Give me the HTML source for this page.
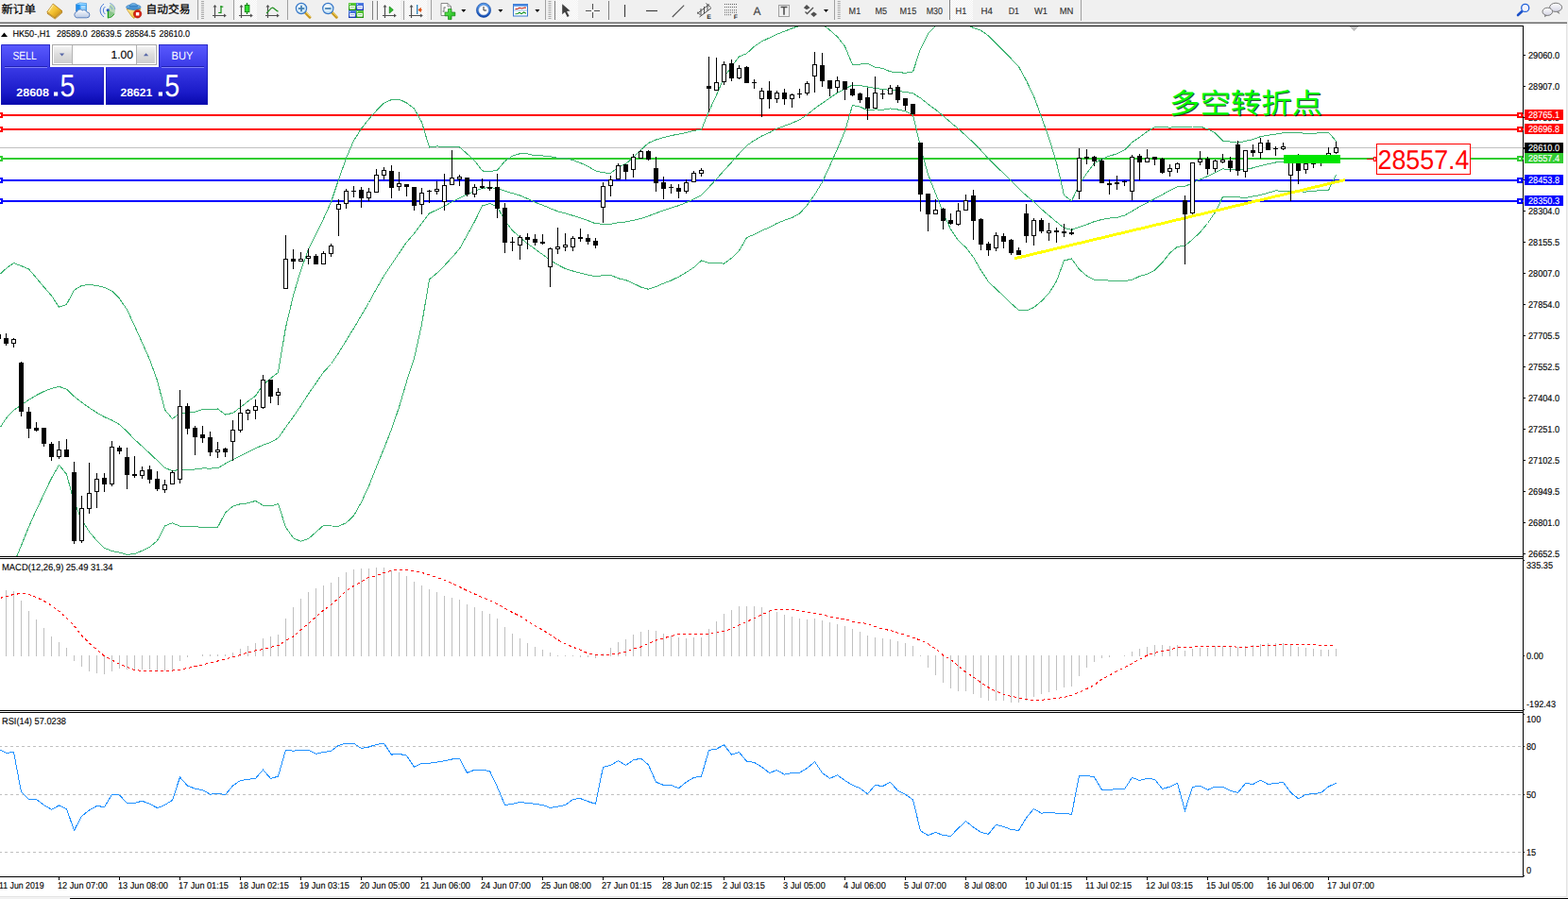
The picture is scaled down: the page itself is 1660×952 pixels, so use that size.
<!DOCTYPE html>
<html><head><meta charset="utf-8"><title>HK50-,H1</title><style>html,body{margin:0;padding:0;background:#fff;overflow:hidden}</style></head><body>
<svg width="1660" height="952" viewBox="0 0 1660 952" style="display:block;font-family:'Liberation Sans',sans-serif" text-rendering="geometricPrecision">
<defs>
<clipPath id="cm"><rect x="0" y="28" width="1612" height="561"/></clipPath>
<clipPath id="cd"><rect x="0" y="592" width="1612" height="160"/></clipPath>
<clipPath id="cr"><rect x="0" y="755" width="1612" height="173"/></clipPath>
<linearGradient id="gb1" x1="0" y1="0" x2="0" y2="1"><stop offset="0" stop-color="#5a5af4"/><stop offset="1" stop-color="#2e2ee4"/></linearGradient>
<linearGradient id="gb2" x1="0" y1="0" x2="0" y2="1"><stop offset="0" stop-color="#2c2ce2"/><stop offset="0.5" stop-color="#1010d0"/><stop offset="1" stop-color="#0000b4"/></linearGradient>
<linearGradient id="gp" x1="0" y1="47" x2="0" y2="111" gradientUnits="userSpaceOnUse"><stop offset="0" stop-color="#5a5aff"/><stop offset="0.35" stop-color="#3c3ce8"/><stop offset="0.8" stop-color="#1a1ac8"/><stop offset="1" stop-color="#0808ac"/></linearGradient>
<linearGradient id="gbtn" x1="0" y1="0" x2="0" y2="1"><stop offset="0" stop-color="#f4f4f4"/><stop offset="0.5" stop-color="#dcdcdc"/><stop offset="1" stop-color="#cfcfcf"/></linearGradient>
<pattern id="hatch" width="2" height="2" patternUnits="userSpaceOnUse"><rect width="2" height="2" fill="#ffffff"/><rect width="1" height="1" fill="#f0f0f0"/><rect x="1" y="1" width="1" height="1" fill="#f0f0f0"/></pattern><linearGradient id="gold" x1="0" y1="0" x2="1" y2="1"><stop offset="0" stop-color="#ffe680"/><stop offset="0.5" stop-color="#f2c030"/><stop offset="1" stop-color="#b87808"/></linearGradient><linearGradient id="cloud" x1="0" y1="0" x2="0" y2="1"><stop offset="0" stop-color="#ffffff"/><stop offset="1" stop-color="#b8c8e4"/></linearGradient><linearGradient id="hat" x1="0" y1="0" x2="0" y2="1"><stop offset="0" stop-color="#8cc8f0"/><stop offset="1" stop-color="#3080c8"/></linearGradient><linearGradient id="fun" x1="0" y1="0" x2="1" y2="1"><stop offset="0" stop-color="#fff0a0"/><stop offset="1" stop-color="#e8b020"/></linearGradient><radialGradient id="lens" cx="0.4" cy="0.35" r="0.7"><stop offset="0" stop-color="#ffffff"/><stop offset="1" stop-color="#b8dcf4"/></radialGradient><linearGradient id="clk" x1="0" y1="0" x2="0" y2="1"><stop offset="0" stop-color="#58a0f0"/><stop offset="1" stop-color="#1048b0"/></linearGradient><linearGradient id="bub" x1="0" y1="0" x2="0" y2="1"><stop offset="0" stop-color="#ffffff"/><stop offset="1" stop-color="#d4d4e4"/></linearGradient><linearGradient id="grn" x1="0" y1="0" x2="0" y2="1"><stop offset="0" stop-color="#60d040"/><stop offset="1" stop-color="#209010"/></linearGradient><linearGradient id="grn2" x1="0" y1="0" x2="1" y2="1"><stop offset="0" stop-color="#70f060"/><stop offset="1" stop-color="#10b010"/></linearGradient><linearGradient id="blu" x1="0" y1="0" x2="0" y2="1"><stop offset="0" stop-color="#5080e8"/><stop offset="1" stop-color="#1838b0"/></linearGradient>
</defs>
<rect x="0" y="0" width="1660" height="952" fill="#fff"/>
<g clip-path="url(#cm)" shape-rendering="crispEdges">
<rect x="0" y="156" width="1612" height="1" fill="#c0c0c0"/>
<rect x="0" y="121" width="1612" height="2" fill="#ff0000"/>
<rect x="0" y="136" width="1612" height="2" fill="#ff0000"/>
<rect x="0" y="167" width="1612" height="2" fill="#32cd32"/>
<rect x="0" y="190" width="1612" height="2" fill="#0000ff"/>
<rect x="0" y="212" width="1612" height="2" fill="#0000ff"/>
</g>
<g clip-path="url(#cm)" shape-rendering="crispEdges">
<polyline points="0.5,289.8 6.5,284.3 14.5,278.5 22.5,281.6 30.5,285.0 38.5,294.3 46.5,303.9 54.5,313.0 62.5,325.3 70.5,322.3 78.5,307.1 86.5,302.5 94.5,301.4 102.5,302.4 110.5,304.4 118.5,308.2 126.5,316.2 134.5,328.0 142.5,345.1 150.5,362.8 158.5,380.8 166.5,402.8 174.5,433.9 182.5,443.5 190.5,437.7 198.5,437.3 206.5,436.1 214.5,433.6 222.5,433.9 230.5,433.0 238.5,439.0 246.5,437.4 254.5,431.4 262.5,425.0 270.5,419.3 278.5,407.4 286.5,400.7 294.5,394.4 302.5,346.6 310.5,313.0 318.5,286.1 326.5,264.0 334.5,247.8 342.5,231.7 350.5,214.0 358.5,190.2 366.5,167.6 374.5,148.9 382.5,136.3 390.5,126.1 398.5,117.2 406.5,109.1 414.5,105.6 422.5,105.1 430.5,109.0 438.5,115.1 446.5,129.5 454.5,156.0 462.5,155.0 470.5,155.1 478.5,155.1 486.5,155.9 494.5,162.9 502.5,170.2 510.5,180.9 518.5,181.7 526.5,180.2 534.5,170.7 542.5,165.2 550.5,162.7 558.5,162.9 566.5,164.8 574.5,164.9 582.5,165.8 590.5,167.2 598.5,167.3 606.5,169.6 614.5,172.5 622.5,176.2 630.5,180.9 638.5,182.8 646.5,183.5 654.5,176.9 662.5,173.5 670.5,166.7 678.5,158.7 686.5,151.4 694.5,148.0 702.5,145.7 710.5,143.5 718.5,142.2 726.5,140.5 734.5,138.4 742.5,137.3 750.5,117.9 758.5,100.7 766.5,81.8 774.5,70.5 782.5,60.0 790.5,56.7 798.5,49.2 806.5,43.9 814.5,40.1 822.5,36.2 830.5,33.2 838.5,30.0 846.5,27.3 854.5,25.8 862.5,23.6 870.5,25.7 878.5,31.9 886.5,39.0 894.5,49.2 902.5,68.5 910.5,68.1 918.5,67.2 926.5,71.1 934.5,72.4 942.5,75.9 950.5,76.7 958.5,77.2 966.5,76.0 974.5,51.9 982.5,35.7 990.5,27.1 998.5,20.4 1006.5,16.6 1014.5,18.1 1022.5,25.2 1030.5,29.6 1038.5,32.2 1046.5,38.0 1054.5,45.8 1062.5,53.9 1070.5,62.2 1078.5,70.7 1086.5,85.3 1094.5,102.0 1102.5,123.8 1110.5,146.1 1118.5,172.3 1126.5,206.7 1134.5,212.8 1142.5,195.7 1150.5,183.4 1158.5,172.9 1166.5,168.4 1174.5,165.1 1182.5,162.9 1190.5,158.9 1198.5,150.8 1206.5,145.3 1214.5,139.2 1222.5,134.8 1230.5,134.4 1238.5,135.2 1246.5,134.2 1254.5,134.6 1262.5,134.0 1270.5,134.0 1278.5,136.7 1286.5,140.9 1294.5,149.1 1302.5,150.1 1310.5,151.2 1318.5,149.4 1326.5,147.7 1334.5,144.6 1342.5,143.3 1350.5,142.1 1358.5,140.7 1366.5,140.4 1374.5,140.9 1382.5,141.1 1390.5,141.1 1398.5,140.9 1406.5,140.1 1414.5,149.6" fill="none" stroke="#3cb371" stroke-width="1"/>
<polyline points="0.5,452.2 6.5,442.9 14.5,434.3 22.5,429.0 30.5,423.4 38.5,418.5 46.5,414.5 54.5,411.4 62.5,409.3 70.5,412.2 78.5,419.8 86.5,426.1 94.5,431.8 102.5,437.0 110.5,441.6 118.5,445.0 126.5,449.6 134.5,457.0 142.5,465.4 150.5,472.7 158.5,480.0 166.5,487.7 174.5,495.4 182.5,498.6 190.5,497.4 198.5,497.3 206.5,497.0 214.5,495.9 222.5,496.1 230.5,495.7 238.5,491.0 246.5,486.8 254.5,482.6 262.5,478.9 270.5,474.8 278.5,471.3 286.5,468.4 294.5,463.9 302.5,452.4 310.5,441.4 318.5,429.7 326.5,417.3 334.5,405.7 342.5,394.1 350.5,385.5 358.5,373.7 366.5,360.6 374.5,347.6 382.5,334.1 390.5,320.5 398.5,305.8 406.5,292.0 414.5,280.1 422.5,268.1 430.5,256.5 438.5,247.3 446.5,236.5 454.5,225.9 462.5,222.2 470.5,218.2 478.5,213.8 486.5,209.6 494.5,206.0 502.5,202.5 510.5,199.4 518.5,198.6 526.5,199.5 534.5,202.3 542.5,204.6 550.5,207.0 558.5,210.4 566.5,214.3 574.5,217.2 582.5,220.7 590.5,223.8 598.5,225.9 606.5,228.3 614.5,230.8 622.5,233.6 630.5,236.8 638.5,237.2 646.5,237.4 654.5,235.8 662.5,235.0 670.5,233.4 678.5,231.4 686.5,228.8 694.5,225.7 702.5,222.9 710.5,220.2 718.5,217.7 726.5,214.5 734.5,210.8 742.5,206.6 750.5,198.3 758.5,189.6 766.5,180.5 774.5,171.9 782.5,162.8 790.5,154.2 798.5,148.7 806.5,144.0 814.5,140.5 822.5,136.3 830.5,133.3 838.5,130.3 846.5,126.8 854.5,121.5 862.5,114.9 870.5,109.3 878.5,103.8 886.5,98.4 894.5,94.0 902.5,90.0 910.5,90.6 918.5,92.0 926.5,93.5 934.5,94.4 942.5,95.4 950.5,96.3 958.5,97.5 966.5,98.8 974.5,103.8 982.5,110.2 990.5,116.1 998.5,122.8 1006.5,129.6 1014.5,136.4 1022.5,143.6 1030.5,151.0 1038.5,159.2 1046.5,168.2 1054.5,175.9 1062.5,183.7 1070.5,191.8 1078.5,199.5 1086.5,207.1 1094.5,213.8 1102.5,221.4 1110.5,228.3 1118.5,235.0 1126.5,241.3 1134.5,243.4 1142.5,240.5 1150.5,237.8 1158.5,234.6 1166.5,232.5 1174.5,231.1 1182.5,230.3 1190.5,228.2 1198.5,223.6 1206.5,218.9 1214.5,214.8 1222.5,210.4 1230.5,206.2 1238.5,201.6 1246.5,197.7 1254.5,197.4 1262.5,193.8 1270.5,190.0 1278.5,186.6 1286.5,182.8 1294.5,178.9 1302.5,179.4 1310.5,180.0 1318.5,179.4 1326.5,177.8 1334.5,175.5 1342.5,173.7 1350.5,172.0 1358.5,171.4 1366.5,171.2 1374.5,171.9 1382.5,172.1 1390.5,171.7 1398.5,171.4 1406.5,170.8 1414.5,167.3" fill="none" stroke="#3cb371" stroke-width="1"/>
<polyline points="0.5,632.0 6.5,615.0 14.5,597.0 22.5,577.8 30.5,557.8 38.5,540.0 46.5,523.2 54.5,506.4 62.5,492.3 70.5,502.2 78.5,531.6 86.5,550.5 94.5,563.1 102.5,572.6 110.5,580.3 118.5,583.5 126.5,585.2 134.5,587.3 142.5,586.6 150.5,583.1 158.5,579.2 166.5,572.6 174.5,556.9 182.5,553.8 190.5,557.2 198.5,557.4 206.5,557.8 214.5,558.3 222.5,558.2 230.5,558.3 238.5,542.9 246.5,536.1 254.5,533.7 262.5,532.9 270.5,530.4 278.5,535.2 286.5,536.0 294.5,533.5 302.5,558.3 310.5,569.7 318.5,573.3 326.5,570.6 334.5,563.5 342.5,556.4 350.5,557.0 358.5,557.1 366.5,553.7 374.5,546.2 382.5,531.9 390.5,514.8 398.5,494.4 406.5,475.0 414.5,454.6 422.5,431.2 430.5,404.0 438.5,379.5 446.5,343.5 454.5,295.8 462.5,289.3 470.5,281.3 478.5,272.6 486.5,263.4 494.5,249.0 502.5,234.7 510.5,218.0 518.5,215.5 526.5,218.9 534.5,233.8 542.5,244.0 550.5,251.4 558.5,258.0 566.5,263.7 574.5,269.6 582.5,275.5 590.5,280.4 598.5,284.5 606.5,287.0 614.5,289.2 622.5,291.1 630.5,292.7 638.5,291.7 646.5,291.3 654.5,294.8 662.5,296.5 670.5,300.1 678.5,304.0 686.5,306.3 694.5,303.5 702.5,300.1 710.5,297.0 718.5,293.1 726.5,288.5 734.5,283.2 742.5,276.0 750.5,278.6 758.5,278.5 766.5,279.1 774.5,273.4 782.5,265.5 790.5,251.7 798.5,248.2 806.5,244.2 814.5,240.9 822.5,236.5 830.5,233.3 838.5,230.5 846.5,226.2 854.5,217.2 862.5,206.2 870.5,192.9 878.5,175.7 886.5,157.8 894.5,138.8 902.5,111.5 910.5,113.1 918.5,116.8 926.5,115.9 934.5,116.3 942.5,114.9 950.5,116.0 958.5,117.9 966.5,121.5 974.5,155.7 982.5,184.7 990.5,205.1 998.5,225.1 1006.5,242.7 1014.5,254.7 1022.5,262.0 1030.5,272.4 1038.5,286.3 1046.5,298.4 1054.5,306.1 1062.5,313.5 1070.5,321.4 1078.5,328.3 1086.5,328.9 1094.5,325.6 1102.5,319.0 1110.5,310.6 1118.5,297.8 1126.5,276.0 1134.5,274.0 1142.5,285.2 1150.5,292.1 1158.5,296.3 1166.5,296.6 1174.5,297.1 1182.5,297.6 1190.5,297.5 1198.5,296.4 1206.5,292.5 1214.5,290.4 1222.5,286.1 1230.5,278.0 1238.5,268.0 1246.5,261.3 1254.5,260.2 1262.5,253.6 1270.5,246.0 1278.5,236.5 1286.5,224.7 1294.5,208.6 1302.5,208.7 1310.5,208.8 1318.5,209.4 1326.5,207.9 1334.5,206.5 1342.5,204.2 1350.5,201.9 1358.5,202.2 1366.5,202.0 1374.5,202.9 1382.5,203.1 1390.5,202.2 1398.5,201.8 1406.5,201.5 1414.5,184.9" fill="none" stroke="#3cb371" stroke-width="1"/>
<line x1="1074" y1="273.8" x2="1424" y2="190.5" stroke="#ffff00" stroke-width="2.95"/>
<path d="M0 354h1v5h-1zM6 353h1v13h-1zM4 358h5v6h-5zM14 358h1v10h-1zM12 359h5v5h-5zM22 383h1v58h-1zM20 384h5v52h-5zM30 431h1v33h-1zM28 436h5v18h-5zM38 447h1v10h-1zM36 453h5v3h-5zM46 453h1v20h-1zM44 453h5v17h-5zM54 468h1v20h-1zM52 470h5v14h-5zM62 467h1v19h-1zM60 476h5v8h-5zM70 465h1v19h-1zM68 476h5v8h-5zM78 489h1v87h-1zM76 500h5v73h-5zM86 525h1v50h-1zM84 538h5v35h-5zM94 490h1v54h-1zM92 522h5v17h-5zM102 501h1v37h-1zM100 507h5v14h-5zM110 501h1v20h-1zM108 506h5v7h-5zM118 467h1v48h-1zM116 473h5v40h-5zM126 472h1v9h-1zM124 474h5v4h-5zM134 474h1v44h-1zM132 484h5v19h-5zM142 483h1v23h-1zM140 502h5v2h-5zM150 494h1v13h-1zM148 498h5v6h-5zM158 493h1v19h-1zM156 497h5v11h-5zM166 499h1v21h-1zM164 507h5v11h-5zM174 508h1v14h-1zM172 513h5v6h-5zM182 498h1v15h-1zM180 500h5v13h-5zM190 413h1v99h-1zM188 430h5v78h-5zM198 427h1v33h-1zM196 430h5v24h-5zM206 451h1v31h-1zM204 453h5v10h-5zM214 451h1v18h-1zM212 460h5v4h-5zM222 457h1v26h-1zM220 463h5v16h-5zM230 468h1v17h-1zM228 476h5v3h-5zM238 474h1v10h-1zM236 475h5v4h-5zM246 445h1v43h-1zM244 455h5v13h-5zM254 423h1v35h-1zM252 437h5v19h-5zM262 433h1v12h-1zM260 434h5v4h-5zM270 423h1v21h-1zM268 430h5v5h-5zM278 397h1v36h-1zM276 402h5v30h-5zM286 402h1v25h-1zM284 402h5v18h-5zM294 411h1v18h-1zM292 415h5v4h-5zM302 249h1v57h-1zM300 274h5v32h-5zM310 264h1v21h-1zM308 274h5v3h-5zM318 267h1v10h-1zM316 274h5v3h-5zM326 263h1v17h-1zM324 271h5v3h-5zM334 269h1v11h-1zM332 271h5v9h-5zM342 266h1v14h-1zM340 268h5v12h-5zM350 258h1v14h-1zM348 260h5v9h-5zM358 211h1v39h-1zM356 216h5v6h-5zM366 200h1v21h-1zM364 202h5v14h-5zM374 197h1v12h-1zM372 202h5v1h-5zM382 198h1v22h-1zM380 201h5v9h-5zM390 199h1v14h-1zM388 203h5v7h-5zM398 179h1v25h-1zM396 185h5v19h-5zM406 177h1v13h-1zM404 180h5v6h-5zM414 175h1v35h-1zM412 181h5v18h-5zM422 182h1v20h-1zM420 194h5v4h-5zM430 195h1v13h-1zM428 195h5v3h-5zM438 198h1v25h-1zM436 198h5v20h-5zM446 199h1v28h-1zM444 204h5v13h-5zM454 201h1v14h-1zM452 202h5v1h-5zM462 192h1v14h-1zM460 200h5v3h-5zM470 184h1v39h-1zM468 196h5v18h-5zM478 159h1v37h-1zM476 188h5v8h-5zM486 185h1v12h-1zM484 187h5v3h-5zM494 188h1v20h-1zM492 188h5v18h-5zM502 195h1v14h-1zM500 198h5v8h-5zM510 189h1v11h-1zM508 197h5v2h-5zM518 192h1v10h-1zM516 198h5v2h-5zM526 184h1v47h-1zM524 198h5v23h-5zM534 215h1v53h-1zM532 220h5v37h-5zM542 251h1v15h-1zM540 256h5v1h-5zM550 249h1v26h-1zM548 251h5v9h-5zM558 247h1v17h-1zM556 251h5v3h-5zM566 248h1v12h-1zM564 253h5v4h-5zM574 248h1v11h-1zM572 256h5v2h-5zM582 262h1v42h-1zM580 263h5v20h-5zM590 241h1v28h-1zM588 261h5v3h-5zM598 247h1v19h-1zM596 259h5v3h-5zM606 250h1v16h-1zM604 252h5v10h-5zM614 242h1v14h-1zM612 251h5v2h-5zM622 248h1v11h-1zM620 252h5v4h-5zM630 252h1v11h-1zM628 255h5v5h-5zM638 193h1v43h-1zM636 197h5v23h-5zM646 186h1v22h-1zM644 190h5v7h-5zM654 173h1v17h-1zM652 175h5v15h-5zM662 174h1v16h-1zM660 174h5v8h-5zM670 163h1v25h-1zM668 166h5v14h-5zM678 159h1v9h-1zM676 160h5v8h-5zM686 159h1v11h-1zM684 160h5v9h-5zM694 166h1v37h-1zM692 178h5v16h-5zM702 187h1v24h-1zM700 193h5v7h-5zM710 195h1v10h-1zM708 198h5v1h-5zM718 195h1v15h-1zM716 199h5v4h-5zM726 190h1v15h-1zM724 193h5v10h-5zM734 181h1v12h-1zM732 183h5v10h-5zM742 178h1v9h-1zM740 180h5v4h-5zM750 60h1v59h-1zM748 91h5v3h-5zM758 61h1v35h-1zM756 87h5v9h-5zM766 65h1v25h-1zM764 68h5v19h-5zM774 63h1v23h-1zM772 67h5v16h-5zM782 69h1v15h-1zM780 72h5v11h-5zM790 70h1v18h-1zM788 71h5v17h-5zM798 84h1v10h-1zM796 87h5v1h-5zM806 93h1v31h-1zM804 96h5v9h-5zM814 86h1v29h-1zM812 96h5v9h-5zM822 96h1v13h-1zM820 98h5v7h-5zM830 94h1v17h-1zM828 98h5v7h-5zM838 99h1v15h-1zM836 100h5v5h-5zM846 94h1v10h-1zM844 99h5v1h-5zM854 86h1v15h-1zM852 88h5v11h-5zM862 55h1v43h-1zM860 68h5v13h-5zM870 56h1v36h-1zM868 69h5v17h-5zM878 85h1v17h-1zM876 85h5v9h-5zM886 81h1v17h-1zM884 85h5v8h-5zM894 86h1v20h-1zM892 86h5v9h-5zM902 87h1v15h-1zM900 94h5v7h-5zM910 98h1v11h-1zM908 99h5v7h-5zM918 93h1v34h-1zM916 103h5v12h-5zM926 81h1v34h-1zM924 98h5v17h-5zM934 95h1v10h-1zM932 99h5v1h-5zM942 90h1v10h-1zM940 93h5v7h-5zM950 90h1v19h-1zM948 92h5v14h-5zM958 104h1v13h-1zM956 104h5v8h-5zM966 110h1v11h-1zM964 110h5v11h-5zM974 151h1v73h-1zM972 151h5v55h-5zM982 205h1v40h-1zM980 205h5v22h-5zM990 211h1v16h-1zM988 222h5v5h-5zM998 220h1v23h-1zM996 221h5v13h-5zM1006 226h1v12h-1zM1004 233h5v4h-5zM1014 215h1v24h-1zM1012 223h5v15h-5zM1022 206h1v17h-1zM1020 212h5v11h-5zM1030 201h1v53h-1zM1028 207h5v27h-5zM1038 231h1v34h-1zM1036 232h5v27h-5zM1046 256h1v15h-1zM1044 258h5v7h-5zM1054 246h1v20h-1zM1052 249h5v14h-5zM1062 247h1v16h-1zM1060 250h5v6h-5zM1070 253h1v17h-1zM1068 254h5v14h-5zM1078 262h1v8h-1zM1076 265h5v5h-5zM1086 216h1v41h-1zM1084 226h5v24h-5zM1094 231h1v29h-1zM1092 233h5v17h-5zM1102 231h1v16h-1zM1100 233h5v12h-5zM1110 236h1v19h-1zM1108 244h5v3h-5zM1118 241h1v16h-1zM1116 244h5v2h-5zM1126 237h1v14h-1zM1124 245h5v2h-5zM1134 242h1v7h-1zM1132 246h5v2h-5zM1142 157h1v54h-1zM1140 167h5v36h-5zM1150 158h1v16h-1zM1148 166h5v2h-5zM1158 165h1v11h-1zM1156 166h5v5h-5zM1166 168h1v26h-1zM1164 170h5v24h-5zM1174 190h1v16h-1zM1172 194h5v2h-5zM1182 186h1v15h-1zM1180 193h5v2h-5zM1190 191h1v6h-1zM1188 192h5v1h-5zM1198 164h1v48h-1zM1196 166h5v37h-5zM1206 163h1v28h-1zM1204 165h5v7h-5zM1214 158h1v14h-1zM1212 167h5v5h-5zM1222 166h1v9h-1zM1220 166h5v3h-5zM1230 167h1v17h-1zM1228 168h5v15h-5zM1238 174h1v13h-1zM1236 178h5v4h-5zM1246 172h1v11h-1zM1244 173h5v6h-5zM1254 207h1v73h-1zM1252 212h5v15h-5zM1262 172h1v55h-1zM1260 172h5v54h-5zM1270 160h1v15h-1zM1268 168h5v4h-5zM1278 166h1v19h-1zM1276 168h5v11h-5zM1286 169h1v13h-1zM1284 170h5v9h-5zM1294 163h1v10h-1zM1292 169h5v3h-5zM1302 166h1v16h-1zM1300 170h5v8h-5zM1310 149h1v37h-1zM1308 153h5v28h-5zM1318 159h1v29h-1zM1316 159h5v23h-5zM1326 153h1v13h-1zM1324 159h5v3h-5zM1334 146h1v22h-1zM1332 151h5v11h-5zM1342 148h1v11h-1zM1340 151h5v8h-5zM1350 155h1v10h-1zM1348 157h5v1h-5zM1358 151h1v8h-1zM1356 155h5v3h-5zM1366 166h1v47h-1zM1364 167h5v19h-5zM1374 163h1v32h-1zM1372 168h5v13h-5zM1382 172h1v12h-1zM1380 173h5v7h-5zM1390 172h1v6h-1zM1388 173h5v1h-5zM1398 170h1v6h-1zM1396 171h5v2h-5zM1406 156h1v11h-1zM1404 162h5v4h-5zM1414 150h1v13h-1zM1412 156h5v6h-5z" fill="#000"/>
<path d="M13 360h3v3h-3zM61 477h3v6h-3zM85 539h3v33h-3zM93 523h3v15h-3zM101 508h3v12h-3zM117 474h3v38h-3zM149 499h3v4h-3zM173 514h3v4h-3zM181 501h3v11h-3zM189 431h3v76h-3zM229 477h3v1h-3zM245 456h3v11h-3zM253 438h3v17h-3zM261 435h3v2h-3zM269 431h3v3h-3zM277 403h3v28h-3zM293 416h3v2h-3zM301 275h3v30h-3zM317 275h3v1h-3zM325 272h3v1h-3zM341 269h3v10h-3zM349 261h3v7h-3zM357 217h3v4h-3zM365 203h3v12h-3zM389 204h3v5h-3zM397 186h3v17h-3zM405 181h3v4h-3zM421 195h3v2h-3zM445 205h3v11h-3zM461 201h3v1h-3zM469 197h3v16h-3zM477 189h3v6h-3zM485 188h3v1h-3zM501 199h3v6h-3zM549 252h3v7h-3zM581 264h3v18h-3zM589 262h3v1h-3zM597 260h3v1h-3zM605 253h3v8h-3zM637 198h3v21h-3zM645 191h3v5h-3zM653 176h3v13h-3zM669 167h3v12h-3zM677 161h3v6h-3zM725 194h3v8h-3zM733 184h3v8h-3zM741 181h3v2h-3zM757 88h3v7h-3zM765 69h3v17h-3zM781 73h3v9h-3zM805 97h3v7h-3zM821 99h3v5h-3zM837 101h3v3h-3zM853 89h3v9h-3zM861 69h3v11h-3zM885 86h3v6h-3zM925 99h3v15h-3zM941 94h3v5h-3zM989 223h3v3h-3zM1013 224h3v13h-3zM1021 213h3v9h-3zM1053 250h3v12h-3zM1093 234h3v15h-3zM1109 245h3v1h-3zM1141 168h3v34h-3zM1197 167h3v35h-3zM1213 168h3v3h-3zM1237 179h3v2h-3zM1245 174h3v4h-3zM1261 173h3v52h-3zM1269 169h3v2h-3zM1285 171h3v7h-3zM1293 170h3v1h-3zM1317 160h3v21h-3zM1333 152h3v9h-3zM1357 156h3v1h-3zM1365 168h3v17h-3zM1381 174h3v5h-3zM1405 163h3v2h-3zM1413 157h3v4h-3z" fill="#fff"/>
<rect x="1359" y="164" width="60" height="9" fill="#00e600"/>
</g>
<g shape-rendering="crispEdges">
<rect x="1447" y="168" width="8" height="1" fill="#ff0000"/>
<rect x="1454.5" y="166.5" width="2" height="4" fill="#fff" stroke="#ff0000" stroke-width="1"/>
<rect x="1457.5" y="152.5" width="99" height="32" fill="#fff" stroke="#ff0000" stroke-width="1"/>
</g>
<text x="1458.5" y="179.3" font-size="28.6" fill="#ff0000" textLength="97.0" lengthAdjust="spacingAndGlyphs">28557.4</text>
<text x="1238" y="120" font-size="30" fill="#0a2a1a" opacity="0.85" transform="translate(0.9,0.7)" textLength="162" lengthAdjust="spacingAndGlyphs" style="font-family:'Liberation Sans','Noto Sans CJK SC',sans-serif">多空转折点</text>
<text x="1238" y="120" font-size="30" fill="#00ff00" textLength="162" lengthAdjust="spacingAndGlyphs" style="font-family:'Liberation Sans','Noto Sans CJK SC',sans-serif">多空转折点</text>
<g shape-rendering="crispEdges">
<rect x="0" y="27" width="1613" height="1" fill="#000"/>
<rect x="1612" y="27" width="1" height="902" fill="#000"/>
<rect x="0" y="589" width="1613" height="1" fill="#000"/>
<rect x="0" y="591" width="1613" height="1" fill="#000"/>
<rect x="0" y="752" width="1613" height="1" fill="#000"/>
<rect x="0" y="754" width="1613" height="1" fill="#000"/>
<rect x="0" y="928" width="1613" height="1" fill="#000"/>
<path d="M1429 28h9v1h-1v1h-1v1h-1v1h-1v1h-1v-1h-1v-1h-1v-1h-1v-1h-1z" fill="#c0c0c0"/>
</g>
<g shape-rendering="crispEdges">
<path d="M-3 119h6v6h-6z" fill="#ff0000"/><rect x="-1" y="121" width="2" height="2" fill="#fff"/>
<path d="M-3 134h6v6h-6z" fill="#ff0000"/><rect x="-1" y="136" width="2" height="2" fill="#fff"/>
<path d="M-3 165h6v6h-6z" fill="#32cd32"/><rect x="-1" y="167" width="2" height="2" fill="#fff"/>
<path d="M-3 188h6v6h-6z" fill="#0000ff"/><rect x="-1" y="190" width="2" height="2" fill="#fff"/>
<path d="M-3 210h6v6h-6z" fill="#0000ff"/><rect x="-1" y="212" width="2" height="2" fill="#fff"/>
</g>
<g>
<rect x="1613" y="58" width="2" height="1" fill="#000"/>
<text x="1618" y="62" font-size="10" fill="#000" textLength="33.1" lengthAdjust="spacingAndGlyphs" stroke="#000" stroke-width="0.13">29060.0</text>
<rect x="1613" y="91" width="2" height="1" fill="#000"/>
<text x="1618" y="95" font-size="10" fill="#000" textLength="33.1" lengthAdjust="spacingAndGlyphs" stroke="#000" stroke-width="0.13">28907.0</text>
<rect x="1613" y="124" width="2" height="1" fill="#000"/>
<text x="1618" y="128" font-size="10" fill="#000" textLength="33.1" lengthAdjust="spacingAndGlyphs" stroke="#000" stroke-width="0.13">28758.5</text>
<rect x="1613" y="157" width="2" height="1" fill="#000"/>
<text x="1618" y="161" font-size="10" fill="#000" textLength="33.1" lengthAdjust="spacingAndGlyphs" stroke="#000" stroke-width="0.13">28605.5</text>
<rect x="1613" y="190" width="2" height="1" fill="#000"/>
<text x="1618" y="194" font-size="10" fill="#000" textLength="33.1" lengthAdjust="spacingAndGlyphs" stroke="#000" stroke-width="0.13">28457.0</text>
<rect x="1613" y="223" width="2" height="1" fill="#000"/>
<text x="1618" y="227" font-size="10" fill="#000" textLength="33.1" lengthAdjust="spacingAndGlyphs" stroke="#000" stroke-width="0.13">28304.0</text>
<rect x="1613" y="256" width="2" height="1" fill="#000"/>
<text x="1618" y="260" font-size="10" fill="#000" textLength="33.1" lengthAdjust="spacingAndGlyphs" stroke="#000" stroke-width="0.13">28155.5</text>
<rect x="1613" y="289" width="2" height="1" fill="#000"/>
<text x="1618" y="293" font-size="10" fill="#000" textLength="33.1" lengthAdjust="spacingAndGlyphs" stroke="#000" stroke-width="0.13">28007.0</text>
<rect x="1613" y="322" width="2" height="1" fill="#000"/>
<text x="1618" y="326" font-size="10" fill="#000" textLength="33.1" lengthAdjust="spacingAndGlyphs" stroke="#000" stroke-width="0.13">27854.0</text>
<rect x="1613" y="355" width="2" height="1" fill="#000"/>
<text x="1618" y="359" font-size="10" fill="#000" textLength="33.1" lengthAdjust="spacingAndGlyphs" stroke="#000" stroke-width="0.13">27705.5</text>
<rect x="1613" y="388" width="2" height="1" fill="#000"/>
<text x="1618" y="392" font-size="10" fill="#000" textLength="33.1" lengthAdjust="spacingAndGlyphs" stroke="#000" stroke-width="0.13">27552.5</text>
<rect x="1613" y="421" width="2" height="1" fill="#000"/>
<text x="1618" y="425" font-size="10" fill="#000" textLength="33.1" lengthAdjust="spacingAndGlyphs" stroke="#000" stroke-width="0.13">27404.0</text>
<rect x="1613" y="454" width="2" height="1" fill="#000"/>
<text x="1618" y="458" font-size="10" fill="#000" textLength="33.1" lengthAdjust="spacingAndGlyphs" stroke="#000" stroke-width="0.13">27251.0</text>
<rect x="1613" y="487" width="2" height="1" fill="#000"/>
<text x="1618" y="491" font-size="10" fill="#000" textLength="33.1" lengthAdjust="spacingAndGlyphs" stroke="#000" stroke-width="0.13">27102.5</text>
<rect x="1613" y="520" width="2" height="1" fill="#000"/>
<text x="1618" y="524" font-size="10" fill="#000" textLength="33.1" lengthAdjust="spacingAndGlyphs" stroke="#000" stroke-width="0.13">26949.5</text>
<rect x="1613" y="553" width="2" height="1" fill="#000"/>
<text x="1618" y="557" font-size="10" fill="#000" textLength="33.1" lengthAdjust="spacingAndGlyphs" stroke="#000" stroke-width="0.13">26801.0</text>
<rect x="1613" y="586" width="2" height="1" fill="#000"/>
<text x="1618" y="590" font-size="10" fill="#000" textLength="33.1" lengthAdjust="spacingAndGlyphs" stroke="#000" stroke-width="0.13">26652.5</text>
</g>
<g shape-rendering="crispEdges">
<rect x="1606" y="121" width="7" height="2" fill="#ff0000"/>
<path d="M1606 119h6v6h-6z" fill="#ff0000"/><rect x="1608" y="121" width="2" height="2" fill="#fff"/>
<rect x="1614" y="116" width="41" height="11" fill="#ff0000"/>
<rect x="1606" y="136" width="7" height="2" fill="#ff0000"/>
<path d="M1606 134h6v6h-6z" fill="#ff0000"/><rect x="1608" y="136" width="2" height="2" fill="#fff"/>
<rect x="1614" y="131" width="41" height="11" fill="#ff0000"/>
<rect x="1606" y="167" width="7" height="2" fill="#32cd32"/>
<path d="M1606 165h6v6h-6z" fill="#32cd32"/><rect x="1608" y="167" width="2" height="2" fill="#fff"/>
<rect x="1614" y="162" width="41" height="11" fill="#32cd32"/>
<rect x="1606" y="190" width="7" height="2" fill="#0000ff"/>
<path d="M1606 188h6v6h-6z" fill="#0000ff"/><rect x="1608" y="190" width="2" height="2" fill="#fff"/>
<rect x="1614" y="185" width="41" height="11" fill="#0000ff"/>
<rect x="1606" y="212" width="7" height="2" fill="#0000ff"/>
<path d="M1606 210h6v6h-6z" fill="#0000ff"/><rect x="1608" y="212" width="2" height="2" fill="#fff"/>
<rect x="1614" y="207" width="41" height="11" fill="#0000ff"/>
<rect x="1613" y="156" width="2" height="1" fill="#000"/>
<rect x="1614" y="151" width="41" height="11" fill="#000"/>
</g>
<text x="1618" y="125" font-size="10" fill="#fff" textLength="33.1" lengthAdjust="spacingAndGlyphs" stroke="#fff" stroke-width="0.13">28765.1</text>
<text x="1618" y="140" font-size="10" fill="#fff" textLength="33.1" lengthAdjust="spacingAndGlyphs" stroke="#fff" stroke-width="0.13">28696.8</text>
<text x="1618" y="171" font-size="10" fill="#fff" textLength="33.1" lengthAdjust="spacingAndGlyphs" stroke="#fff" stroke-width="0.13">28557.4</text>
<text x="1618" y="194" font-size="10" fill="#fff" textLength="33.1" lengthAdjust="spacingAndGlyphs" stroke="#fff" stroke-width="0.13">28453.8</text>
<text x="1618" y="216" font-size="10" fill="#fff" textLength="33.1" lengthAdjust="spacingAndGlyphs" stroke="#fff" stroke-width="0.13">28350.3</text>
<text x="1618" y="160" font-size="10" fill="#fff" textLength="33.1" lengthAdjust="spacingAndGlyphs" stroke="#fff" stroke-width="0.13">28610.0</text>
<g clip-path="url(#cd)" shape-rendering="crispEdges">
<path d="M6 625h1v70h-1zM14 626h1v69h-1zM22 636h1v59h-1zM30 647h1v48h-1zM38 656h1v39h-1zM46 665h1v30h-1zM54 674h1v21h-1zM62 680h1v15h-1zM70 686h1v9h-1zM78 694h1v6h-1zM86 694h1v12h-1zM94 694h1v17h-1zM102 694h1v19h-1zM110 694h1v20h-1zM118 694h1v17h-1zM126 694h1v14h-1zM134 694h1v15h-1zM142 694h1v16h-1zM150 694h1v15h-1zM158 694h1v15h-1zM166 694h1v16h-1zM174 694h1v16h-1zM182 694h1v16h-1zM190 694h1v6h-1zM198 694h1v2h-1zM214 693h1v2h-1zM222 693h1v2h-1zM230 693h1v2h-1zM238 693h1v2h-1zM246 691h1v4h-1zM254 687h1v8h-1zM262 684h1v11h-1zM270 681h1v14h-1zM278 676h1v19h-1zM286 674h1v21h-1zM294 672h1v23h-1zM302 655h1v40h-1zM310 643h1v52h-1zM318 634h1v61h-1zM326 627h1v68h-1zM334 623h1v72h-1zM342 620h1v75h-1zM350 617h1v78h-1zM358 611h1v84h-1zM366 606h1v89h-1zM374 603h1v92h-1zM382 602h1v93h-1zM390 602h1v93h-1zM398 601h1v94h-1zM406 601h1v94h-1zM414 604h1v91h-1zM422 606h1v89h-1zM430 610h1v85h-1zM438 616h1v79h-1zM446 620h1v75h-1zM454 624h1v71h-1zM462 627h1v68h-1zM470 631h1v64h-1zM478 633h1v62h-1zM486 635h1v60h-1zM494 640h1v55h-1zM502 643h1v52h-1zM510 647h1v48h-1zM518 650h1v45h-1zM526 655h1v40h-1zM534 664h1v31h-1zM542 671h1v24h-1zM550 676h1v19h-1zM558 681h1v14h-1zM566 685h1v10h-1zM574 688h1v7h-1zM582 691h1v4h-1zM590 694h1v1h-1zM598 694h1v1h-1zM606 694h1v1h-1zM614 694h1v2h-1zM622 694h1v2h-1zM630 694h1v3h-1zM638 692h1v3h-1zM646 686h1v9h-1zM654 680h1v15h-1zM662 677h1v18h-1zM670 672h1v23h-1zM678 669h1v26h-1zM686 667h1v28h-1zM694 668h1v27h-1zM702 671h1v24h-1zM710 673h1v22h-1zM718 675h1v20h-1zM726 676h1v19h-1zM734 675h1v20h-1zM742 675h1v20h-1zM750 666h1v29h-1zM758 658h1v37h-1zM766 650h1v45h-1zM774 646h1v49h-1zM782 642h1v53h-1zM790 642h1v53h-1zM798 642h1v53h-1zM806 643h1v52h-1zM814 646h1v49h-1zM822 648h1v47h-1zM830 651h1v44h-1zM838 653h1v42h-1zM846 655h1v40h-1zM854 656h1v39h-1zM862 655h1v40h-1zM870 657h1v38h-1zM878 659h1v36h-1zM886 661h1v34h-1zM894 663h1v32h-1zM902 666h1v29h-1zM910 669h1v26h-1zM918 673h1v22h-1zM926 675h1v20h-1zM934 676h1v19h-1zM942 677h1v18h-1zM950 679h1v16h-1zM958 681h1v14h-1zM966 684h1v11h-1zM974 694h1v1h-1zM982 694h1v13h-1zM990 694h1v21h-1zM998 694h1v29h-1zM1006 694h1v35h-1zM1014 694h1v38h-1zM1022 694h1v38h-1zM1030 694h1v41h-1zM1038 694h1v45h-1zM1046 694h1v48h-1zM1054 694h1v48h-1zM1062 694h1v48h-1zM1070 694h1v50h-1zM1078 694h1v50h-1zM1086 694h1v48h-1zM1094 694h1v44h-1zM1102 694h1v41h-1zM1110 694h1v39h-1zM1118 694h1v37h-1zM1126 694h1v34h-1zM1134 694h1v33h-1zM1142 694h1v22h-1zM1150 694h1v13h-1zM1158 694h1v7h-1zM1166 694h1v3h-1zM1174 694h1v2h-1zM1190 694h1v1h-1zM1198 690h1v5h-1zM1206 687h1v8h-1zM1214 685h1v10h-1zM1222 683h1v12h-1zM1230 683h1v12h-1zM1238 684h1v11h-1zM1246 683h1v12h-1zM1254 689h1v6h-1zM1262 687h1v8h-1zM1270 686h1v9h-1zM1278 686h1v9h-1zM1286 684h1v11h-1zM1294 684h1v11h-1zM1302 685h1v10h-1zM1310 685h1v10h-1zM1318 684h1v11h-1zM1326 683h1v12h-1zM1334 682h1v13h-1zM1342 681h1v14h-1zM1350 681h1v14h-1zM1358 681h1v14h-1zM1366 682h1v13h-1zM1374 685h1v10h-1zM1382 686h1v9h-1zM1390 687h1v8h-1zM1398 688h1v7h-1zM1406 688h1v7h-1zM1414 687h1v8h-1z" fill="#c0c0c0"/>
<polyline points="0.5,633.3 6.5,631.6 14.5,629.5 22.5,628.5 30.5,629.5 38.5,632.5 46.5,636.4 54.5,641.1 62.5,647.2 70.5,654.5 78.5,662.8 86.5,672.8 94.5,681.0 102.5,687.9 110.5,694.8 118.5,698.8 126.5,703.5 134.5,706.4 142.5,709.6 150.5,710.4 158.5,710.4 166.5,710.4 174.5,710.4 182.5,710.1 190.5,709.2 198.5,707.5 206.5,705.8 214.5,704.0 222.5,701.8 230.5,700.0 238.5,698.0 246.5,695.7 254.5,693.6 262.5,691.0 270.5,688.9 278.5,687.5 286.5,685.3 294.5,683.6 302.5,678.4 310.5,674.0 318.5,667.1 326.5,660.2 334.5,653.2 342.5,646.3 350.5,640.3 358.5,633.3 366.5,625.5 374.5,620.3 382.5,616.0 390.5,611.3 398.5,609.6 406.5,606.5 414.5,604.4 422.5,603.3 430.5,603.3 438.5,604.7 446.5,606.5 454.5,608.5 462.5,611.7 470.5,614.3 478.5,617.7 486.5,621.5 494.5,625.5 502.5,629.0 510.5,632.5 518.5,635.9 526.5,639.7 534.5,644.1 542.5,648.6 550.5,652.4 558.5,657.6 566.5,662.8 574.5,667.1 582.5,672.3 590.5,677.5 598.5,681.8 606.5,685.3 614.5,688.2 622.5,691.9 630.5,693.3 638.5,693.4 646.5,693.1 654.5,692.2 662.5,690.5 670.5,687.0 678.5,685.0 686.5,681.5 694.5,678.0 702.5,675.8 710.5,673.7 718.5,671.4 726.5,671.4 734.5,671.4 742.5,671.4 750.5,671.4 758.5,670.1 766.5,668.3 774.5,665.9 782.5,661.9 790.5,658.4 798.5,654.6 806.5,651.0 814.5,647.2 822.5,645.4 830.5,645.4 838.5,645.4 846.5,646.7 854.5,648.4 862.5,649.4 870.5,650.6 878.5,653.2 886.5,654.5 894.5,655.5 902.5,658.4 910.5,659.3 918.5,660.5 926.5,663.6 934.5,666.2 942.5,667.5 950.5,670.2 958.5,672.3 966.5,675.3 974.5,678.0 982.5,681.8 990.5,687.0 998.5,694.0 1006.5,698.3 1014.5,705.2 1022.5,711.8 1030.5,717.0 1038.5,722.6 1046.5,728.1 1054.5,732.1 1062.5,735.2 1070.5,737.3 1078.5,739.0 1086.5,740.6 1094.5,741.3 1102.5,741.3 1110.5,740.4 1118.5,739.4 1126.5,738.5 1134.5,736.1 1142.5,733.0 1150.5,729.5 1158.5,725.5 1166.5,719.1 1174.5,715.1 1182.5,710.8 1190.5,707.0 1198.5,702.6 1206.5,698.3 1214.5,694.0 1222.5,691.4 1230.5,689.6 1238.5,687.9 1246.5,685.7 1254.5,685.3 1262.5,685.0 1270.5,684.4 1278.5,684.4 1286.5,684.4 1294.5,684.4 1302.5,684.4 1310.5,685.3 1318.5,685.3 1326.5,684.4 1334.5,684.1 1342.5,683.4 1350.5,683.4 1358.5,682.6 1366.5,682.4 1374.5,682.4 1382.5,682.4 1390.5,682.4 1398.5,683.4 1406.5,683.4 1414.5,684.4" fill="none" stroke="#ff0000" stroke-width="1" stroke-dasharray="3 3"/>
</g>
<text x="2" y="604" font-size="10" fill="#000" textLength="117.5" lengthAdjust="spacingAndGlyphs" stroke="#000" stroke-width="0.13">MACD(12,26,9) 25.49 31.34</text>
<g shape-rendering="crispEdges">
<rect x="1613" y="593" width="1" height="1" fill="#000"/>
<rect x="1613" y="694" width="1" height="1" fill="#000"/>
<rect x="1613" y="751" width="1" height="1" fill="#000"/>
</g>
<text x="1616" y="602" font-size="10" fill="#000" textLength="28.0" lengthAdjust="spacingAndGlyphs" stroke="#000" stroke-width="0.13">335.35</text>
<text x="1616" y="698" font-size="10" fill="#000" textLength="17.8" lengthAdjust="spacingAndGlyphs" stroke="#000" stroke-width="0.13">0.00</text>
<text x="1616" y="749" font-size="10" fill="#000" textLength="31.0" lengthAdjust="spacingAndGlyphs" stroke="#000" stroke-width="0.13">-192.43</text>
<g clip-path="url(#cr)" shape-rendering="crispEdges">
<line x1="-1" y1="790.5" x2="1612" y2="790.5" stroke="#c0c0c0" stroke-width="1" stroke-dasharray="3 3"/>
<line x1="-1" y1="841.5" x2="1612" y2="841.5" stroke="#c0c0c0" stroke-width="1" stroke-dasharray="3 3"/>
<line x1="-1" y1="902.5" x2="1612" y2="902.5" stroke="#c0c0c0" stroke-width="1" stroke-dasharray="3 3"/>
<polyline points="0.5,794.1 6.5,797.4 14.5,796.5 22.5,838.6 30.5,846.4 38.5,846.4 46.5,852.5 54.5,857.2 62.5,853.0 70.5,856.5 78.5,879.4 86.5,864.3 94.5,858.0 102.5,853.4 110.5,854.6 118.5,841.2 126.5,842.1 134.5,850.4 142.5,850.4 150.5,848.2 158.5,851.3 166.5,855.6 174.5,852.5 182.5,847.3 190.5,823.0 198.5,832.1 206.5,835.2 214.5,836.6 222.5,841.2 230.5,840.4 238.5,841.6 246.5,832.1 254.5,826.5 262.5,825.3 270.5,824.3 278.5,815.2 286.5,824.4 294.5,822.2 302.5,794.1 310.5,795.3 318.5,794.1 326.5,794.1 334.5,798.4 342.5,796.5 350.5,795.3 358.5,789.3 366.5,787.2 374.5,787.2 382.5,792.4 390.5,791.0 398.5,788.4 406.5,787.2 414.5,799.1 422.5,798.3 430.5,800.2 438.5,812.3 446.5,808.3 454.5,808.3 462.5,807.1 470.5,805.7 478.5,804.0 486.5,803.1 494.5,818.4 502.5,815.2 510.5,815.2 518.5,816.5 526.5,833.4 534.5,852.5 542.5,851.3 550.5,849.4 558.5,850.4 566.5,851.3 574.5,852.5 582.5,855.4 590.5,854.2 598.5,852.5 606.5,846.4 614.5,845.6 622.5,848.7 630.5,851.3 638.5,812.3 646.5,810.4 654.5,805.7 662.5,810.4 670.5,804.9 678.5,803.1 686.5,810.0 694.5,828.2 702.5,831.4 710.5,831.4 718.5,834.7 726.5,828.2 734.5,823.4 742.5,822.2 750.5,794.5 758.5,793.1 766.5,788.9 774.5,799.1 782.5,796.5 790.5,806.2 798.5,807.4 806.5,812.3 814.5,818.4 822.5,815.6 830.5,820.1 838.5,818.4 846.5,818.2 854.5,813.5 862.5,806.6 870.5,818.4 878.5,824.3 886.5,820.8 894.5,826.5 902.5,831.4 910.5,834.7 918.5,840.7 926.5,831.4 934.5,832.6 942.5,828.2 950.5,837.3 958.5,841.2 966.5,847.0 974.5,879.9 982.5,884.6 990.5,881.4 998.5,884.6 1006.5,885.4 1014.5,877.1 1022.5,869.8 1030.5,875.9 1038.5,881.4 1046.5,883.3 1054.5,873.3 1062.5,875.4 1070.5,878.5 1078.5,879.4 1086.5,866.0 1094.5,856.5 1102.5,861.2 1110.5,860.3 1118.5,861.2 1126.5,861.2 1134.5,862.4 1142.5,821.3 1150.5,821.3 1158.5,823.0 1166.5,836.4 1174.5,836.4 1182.5,835.5 1190.5,835.5 1198.5,823.4 1206.5,826.5 1214.5,824.3 1222.5,825.3 1230.5,835.5 1238.5,833.1 1246.5,829.5 1254.5,858.2 1262.5,833.4 1270.5,832.2 1278.5,836.4 1286.5,833.1 1294.5,833.1 1302.5,837.3 1310.5,839.5 1318.5,829.5 1326.5,830.5 1334.5,826.2 1342.5,830.5 1350.5,829.5 1358.5,828.5 1366.5,839.3 1374.5,845.7 1382.5,841.4 1390.5,840.6 1398.5,839.5 1406.5,833.0 1414.5,829.2" fill="none" stroke="#1e90ff" stroke-width="1"/>
</g>
<text x="2" y="767" font-size="10" fill="#000" textLength="68.0" lengthAdjust="spacingAndGlyphs" stroke="#000" stroke-width="0.13">RSI(14) 57.0238</text>
<g shape-rendering="crispEdges">
<rect x="1613" y="756" width="1" height="1" fill="#000"/>
<rect x="1613" y="790" width="1" height="1" fill="#000"/>
<rect x="1613" y="841" width="1" height="1" fill="#000"/>
<rect x="1613" y="902" width="1" height="1" fill="#000"/>
<rect x="1613" y="927" width="1" height="1" fill="#000"/>
</g>
<text x="1616" y="765" font-size="10" fill="#000" textLength="15.3" lengthAdjust="spacingAndGlyphs" stroke="#000" stroke-width="0.13">100</text>
<text x="1616" y="794" font-size="10" fill="#000" textLength="10.2" lengthAdjust="spacingAndGlyphs" stroke="#000" stroke-width="0.13">80</text>
<text x="1616" y="845" font-size="10" fill="#000" textLength="10.2" lengthAdjust="spacingAndGlyphs" stroke="#000" stroke-width="0.13">50</text>
<text x="1616" y="906" font-size="10" fill="#000" textLength="10.2" lengthAdjust="spacingAndGlyphs" stroke="#000" stroke-width="0.13">15</text>
<text x="1616" y="925" font-size="10" fill="#000" textLength="5.1" lengthAdjust="spacingAndGlyphs" stroke="#000" stroke-width="0.13">0</text>
<g shape-rendering="crispEdges">
<rect x="62" y="929" width="1" height="3" fill="#000"/>
<rect x="126" y="929" width="1" height="3" fill="#000"/>
<rect x="190" y="929" width="1" height="3" fill="#000"/>
<rect x="254" y="929" width="1" height="3" fill="#000"/>
<rect x="318" y="929" width="1" height="3" fill="#000"/>
<rect x="382" y="929" width="1" height="3" fill="#000"/>
<rect x="446" y="929" width="1" height="3" fill="#000"/>
<rect x="510" y="929" width="1" height="3" fill="#000"/>
<rect x="574" y="929" width="1" height="3" fill="#000"/>
<rect x="638" y="929" width="1" height="3" fill="#000"/>
<rect x="702" y="929" width="1" height="3" fill="#000"/>
<rect x="766" y="929" width="1" height="3" fill="#000"/>
<rect x="830" y="929" width="1" height="3" fill="#000"/>
<rect x="894" y="929" width="1" height="3" fill="#000"/>
<rect x="958" y="929" width="1" height="3" fill="#000"/>
<rect x="1022" y="929" width="1" height="3" fill="#000"/>
<rect x="1086" y="929" width="1" height="3" fill="#000"/>
<rect x="1150" y="929" width="1" height="3" fill="#000"/>
<rect x="1214" y="929" width="1" height="3" fill="#000"/>
<rect x="1278" y="929" width="1" height="3" fill="#000"/>
<rect x="1342" y="929" width="1" height="3" fill="#000"/>
<rect x="1406" y="929" width="1" height="3" fill="#000"/>
</g>
<text x="-1" y="941" font-size="10" fill="#000" textLength="47.6" lengthAdjust="spacingAndGlyphs" stroke="#000" stroke-width="0.13">11 Jun 2019</text>
<text x="61" y="941" font-size="10" fill="#000" textLength="52.9" lengthAdjust="spacingAndGlyphs" stroke="#000" stroke-width="0.13">12 Jun 07:00</text>
<text x="125" y="941" font-size="10" fill="#000" textLength="52.9" lengthAdjust="spacingAndGlyphs" stroke="#000" stroke-width="0.13">13 Jun 08:00</text>
<text x="189" y="941" font-size="10" fill="#000" textLength="52.9" lengthAdjust="spacingAndGlyphs" stroke="#000" stroke-width="0.13">17 Jun 01:15</text>
<text x="253" y="941" font-size="10" fill="#000" textLength="52.9" lengthAdjust="spacingAndGlyphs" stroke="#000" stroke-width="0.13">18 Jun 02:15</text>
<text x="317" y="941" font-size="10" fill="#000" textLength="52.9" lengthAdjust="spacingAndGlyphs" stroke="#000" stroke-width="0.13">19 Jun 03:15</text>
<text x="381" y="941" font-size="10" fill="#000" textLength="52.9" lengthAdjust="spacingAndGlyphs" stroke="#000" stroke-width="0.13">20 Jun 05:00</text>
<text x="445" y="941" font-size="10" fill="#000" textLength="52.9" lengthAdjust="spacingAndGlyphs" stroke="#000" stroke-width="0.13">21 Jun 06:00</text>
<text x="509" y="941" font-size="10" fill="#000" textLength="52.9" lengthAdjust="spacingAndGlyphs" stroke="#000" stroke-width="0.13">24 Jun 07:00</text>
<text x="573" y="941" font-size="10" fill="#000" textLength="52.9" lengthAdjust="spacingAndGlyphs" stroke="#000" stroke-width="0.13">25 Jun 08:00</text>
<text x="637" y="941" font-size="10" fill="#000" textLength="52.9" lengthAdjust="spacingAndGlyphs" stroke="#000" stroke-width="0.13">27 Jun 01:15</text>
<text x="701" y="941" font-size="10" fill="#000" textLength="52.9" lengthAdjust="spacingAndGlyphs" stroke="#000" stroke-width="0.13">28 Jun 02:15</text>
<text x="765" y="941" font-size="10" fill="#000" textLength="44.8" lengthAdjust="spacingAndGlyphs" stroke="#000" stroke-width="0.13">2 Jul 03:15</text>
<text x="829" y="941" font-size="10" fill="#000" textLength="44.8" lengthAdjust="spacingAndGlyphs" stroke="#000" stroke-width="0.13">3 Jul 05:00</text>
<text x="893" y="941" font-size="10" fill="#000" textLength="44.8" lengthAdjust="spacingAndGlyphs" stroke="#000" stroke-width="0.13">4 Jul 06:00</text>
<text x="957" y="941" font-size="10" fill="#000" textLength="44.8" lengthAdjust="spacingAndGlyphs" stroke="#000" stroke-width="0.13">5 Jul 07:00</text>
<text x="1021" y="941" font-size="10" fill="#000" textLength="44.8" lengthAdjust="spacingAndGlyphs" stroke="#000" stroke-width="0.13">8 Jul 08:00</text>
<text x="1085" y="941" font-size="10" fill="#000" textLength="49.9" lengthAdjust="spacingAndGlyphs" stroke="#000" stroke-width="0.13">10 Jul 01:15</text>
<text x="1149" y="941" font-size="10" fill="#000" textLength="49.2" lengthAdjust="spacingAndGlyphs" stroke="#000" stroke-width="0.13">11 Jul 02:15</text>
<text x="1213" y="941" font-size="10" fill="#000" textLength="49.9" lengthAdjust="spacingAndGlyphs" stroke="#000" stroke-width="0.13">12 Jul 03:15</text>
<text x="1277" y="941" font-size="10" fill="#000" textLength="49.9" lengthAdjust="spacingAndGlyphs" stroke="#000" stroke-width="0.13">15 Jul 05:00</text>
<text x="1341" y="941" font-size="10" fill="#000" textLength="49.9" lengthAdjust="spacingAndGlyphs" stroke="#000" stroke-width="0.13">16 Jul 06:00</text>
<text x="1405" y="941" font-size="10" fill="#000" textLength="49.9" lengthAdjust="spacingAndGlyphs" stroke="#000" stroke-width="0.13">17 Jul 07:00</text>
<g shape-rendering="crispEdges">
<rect x="1658" y="25" width="1" height="924" fill="#e3e3e3"/>
<rect x="1659" y="25" width="1" height="926" fill="#f0f0f0"/>
<rect x="0" y="949" width="1659" height="1" fill="#e3e3e3"/>
<rect x="0" y="950" width="1660" height="1" fill="#f4f4f4"/>
<rect x="0" y="951" width="74" height="1" fill="#f0f0f0"/>
<rect x="74" y="951" width="1586" height="1" fill="#000"/>
</g>
<path d="M1 39L4.5 34.4L8 39z" fill="#000"/>
<text x="13.4" y="39" font-size="10" fill="#000" textLength="40.0" lengthAdjust="spacingAndGlyphs" stroke="#000" stroke-width="0.13">HK50-,H1</text>
<text x="59.9" y="39" font-size="10" fill="#000" textLength="32.6" lengthAdjust="spacingAndGlyphs" stroke="#000" stroke-width="0.13">28589.0</text>
<text x="96.3" y="39" font-size="10" fill="#000" textLength="32.6" lengthAdjust="spacingAndGlyphs" stroke="#000" stroke-width="0.13">28639.5</text>
<text x="132.3" y="39" font-size="10" fill="#000" textLength="32.6" lengthAdjust="spacingAndGlyphs" stroke="#000" stroke-width="0.13">28584.5</text>
<text x="168.4" y="39" font-size="10" fill="#000" textLength="32.6" lengthAdjust="spacingAndGlyphs" stroke="#000" stroke-width="0.13">28610.0</text>
<g shape-rendering="crispEdges">
<path d="M1 47H53V71H110V111H1z" fill="url(#gp)"/>
<path d="M168 47H220V111H112V71H168z" fill="url(#gp)"/>
<path d="M1.5 47.5H52.5V71M1.5 47.5V110.5H109.5V71.5" fill="none" stroke="#1818b0" stroke-width="1" opacity="0.7"/>
<path d="M168.5 71V47.5H219.5V110.5H112.5V71.5" fill="none" stroke="#1818b0" stroke-width="1" opacity="0.7"/>
<rect x="5" y="70" width="45" height="1" fill="#2020b4"/>
<rect x="5" y="71" width="45" height="1" fill="#8080f8"/>
<rect x="171" y="70" width="45" height="1" fill="#2020b4"/>
<rect x="171" y="71" width="45" height="1" fill="#8080f8"/>
<rect x="55.5" y="47.5" width="110" height="21" fill="#fff" stroke="#a8a8a8" stroke-width="1"/>
<rect x="57" y="49" width="19" height="18" fill="url(#gbtn)"/>
<rect x="145" y="49" width="19" height="18" fill="url(#gbtn)"/>
<rect x="76" y="48" width="1" height="20" fill="#b4b4b4"/>
<rect x="144" y="48" width="1" height="20" fill="#b4b4b4"/>
</g>
<path d="M63 56.6H68.2L65.6 59.4z" fill="#5868a8"/>
<path d="M152 59.2H157.2L154.6 56.2z" fill="#5868a8"/>
<text x="117.5" y="62" font-size="12" fill="#000" textLength="23.5" lengthAdjust="spacingAndGlyphs" stroke="#000" stroke-width="0.13">1.00</text>
<text x="13.4" y="62.7" font-size="12" fill="#fff" textLength="25.4" lengthAdjust="spacingAndGlyphs">SELL</text>
<text x="181.5" y="62.7" font-size="12" fill="#fff" textLength="22.9" lengthAdjust="spacingAndGlyphs">BUY</text>
<text x="17.3" y="101.5" font-size="11.8" fill="#fff" textLength="34.7" lengthAdjust="spacingAndGlyphs" font-weight="bold">28608</text>
<text x="127.5" y="101.5" font-size="11.8" fill="#fff" textLength="33.9" lengthAdjust="spacingAndGlyphs" font-weight="bold">28621</text>
<rect x="57" y="97.4" width="4.2" height="4.2" fill="#fff"/>
<rect x="167.8" y="97.4" width="4.2" height="4.2" fill="#fff"/>
<text x="63.4" y="101.5" font-size="33" fill="#fff" textLength="16.0" lengthAdjust="spacingAndGlyphs">5</text>
<text x="174.3" y="101.5" font-size="33" fill="#fff" textLength="16.0" lengthAdjust="spacingAndGlyphs">5</text>
<g>
<g shape-rendering="crispEdges">
<rect x="0" y="0" width="1660" height="22" fill="#f0f0f0"/>
<rect x="0" y="22" width="1660" height="1" fill="#f8f8f8"/>
<rect x="0" y="23" width="1659" height="1" fill="#a8a8a8"/>
<rect x="0" y="24" width="1659" height="1" fill="#6e6e6e"/>
<rect x="1659" y="22" width="1" height="3" fill="#f0f0f0"/>
</g>
<text x="1.5" y="14" font-size="12" fill="#000" stroke="#000" stroke-width="0.25" textLength="36.5" lengthAdjust="spacingAndGlyphs" style="font-family:'Liberation Sans','Noto Sans CJK SC',sans-serif">新订单</text>
<text x="154.5" y="14" font-size="12" fill="#000" stroke="#000" stroke-width="0.25" textLength="47" lengthAdjust="spacingAndGlyphs" style="font-family:'Liberation Sans','Noto Sans CJK SC',sans-serif">自动交易</text>
<path d="M49.9 13.1L58 19.3L66.1 12L66.1 13.4L58.2 20.6L49.9 14.6z" fill="#b07810"/>
<path d="M50.4 13.6L58.1 19.6L65.8 12.6" stroke="#f4e0a0" stroke-width="0.6" fill="none"/>
<path d="M56.2 4L66 11.8L58 19L49.8 12.8z" fill="url(#gold)" stroke="#a87008" stroke-width="0.7"/>
<path d="M56.3 5.2L51.3 12.4" stroke="#fff4c0" stroke-width="1.1" opacity="0.85"/>
<path d="M80.6 4.6L84.6 3L91.4 3.6L91.4 12.6L84.6 13.6L80.6 12z" fill="#1e90f0" stroke="#1468c0" stroke-width="0.6"/>
<path d="M84.6 5L91.4 5L91.4 12.6L84.6 13.6z" fill="#58b4f8"/>
<path d="M80.6 4.6L84.6 3L91.4 3.6L91.4 5L84.6 5z" fill="#8cd0ff"/>
<rect x="85.8" y="6.6" width="4.6" height="1.1" fill="#fff"/><rect x="85.8" y="8.8" width="4.6" height="0.9" fill="#d8ecff"/>
<path d="M81.2 18.8a3.3 3.3 0 0 1 0.2-6.4a3.5 3.5 0 0 1 5.8-1.4a3.3 3.3 0 0 1 4.8 1.8a3 3 0 0 1-0.2 6z" fill="url(#cloud)" stroke="#5078b8" stroke-width="0.9"/>
<circle cx="114" cy="11" r="7.8" fill="#eef2f6" opacity="0.8"/>
<path d="M114.3 11L114.3 18.9A7.9 7.9 0 0 0 122 11A7.9 7.9 0 0 0 117 3.7z" fill="#a8d0a8" opacity="0.8"/>
<path d="M114.3 11L114.3 18.9A7.9 7.9 0 0 0 121.4 14z" fill="#78c078" opacity="0.7"/>
<path d="M110 4.2A7.9 7.9 0 0 0 110 17.8M111.4 7A4.9 4.9 0 0 0 111.4 15" stroke="#4878d8" stroke-width="1" fill="none"/>
<path d="M116 3.3A7.9 7.9 0 0 1 121.9 10M116.2 6.5A4.9 4.9 0 0 1 118.9 10" stroke="#6890d8" stroke-width="0.8" fill="none" opacity="0.8"/>
<circle cx="114.2" cy="10.8" r="1.6" fill="#2850c8"/>
<path d="M114.4 11.5V19.2" stroke="#18a018" stroke-width="1.3"/>
<path d="M114.4 19A8 8 0 0 0 121 14.8" stroke="#30a030" stroke-width="1" fill="none"/>
<path d="M134 9.5L149 9.5L143 17.5L142 19.5L139.5 17.5z" fill="url(#fun)" stroke="#c89018" stroke-width="0.7"/>
<ellipse cx="141.3" cy="7.6" rx="7.8" ry="2.8" fill="url(#hat)" stroke="#2870b8" stroke-width="0.6"/>
<path d="M137 7.2C137 2.2 145.6 2.2 145.6 7.2z" fill="url(#hat)" stroke="#2870b8" stroke-width="0.6"/>
<circle cx="145.6" cy="14.8" r="4.2" fill="#d82010" stroke="#a01008" stroke-width="0.6"/>
<rect x="143.9" y="13.1" width="3.4" height="3.4" fill="#fff"/>
<rect x="209" y="0" width="1" height="21" fill="#a0a0a0"/>
<rect x="213" y="1" width="3" height="1" fill="#a8a8a8"/><rect x="213" y="3" width="3" height="1" fill="#a8a8a8"/><rect x="213" y="5" width="3" height="1" fill="#a8a8a8"/><rect x="213" y="7" width="3" height="1" fill="#a8a8a8"/><rect x="213" y="9" width="3" height="1" fill="#a8a8a8"/><rect x="213" y="11" width="3" height="1" fill="#a8a8a8"/><rect x="213" y="13" width="3" height="1" fill="#a8a8a8"/><rect x="213" y="15" width="3" height="1" fill="#a8a8a8"/><rect x="213" y="17" width="3" height="1" fill="#a8a8a8"/><rect x="213" y="19" width="3" height="1" fill="#a8a8a8"/>
<path d="M227.5 6V19M225.0 16.5H239.0" stroke="#505050" stroke-width="1.2" fill="none"/><path d="M225.5 7.5L227.5 5L229.5 7.5zM237.0 14.5L239.8 16.5L237.0 18.5z" fill="#505050"/>
<rect x="233.4" y="6" width="1.2" height="8.2" fill="#109010"/><rect x="233.4" y="6.6" width="2.9" height="1.1" fill="#109010"/><rect x="231.2" y="12.9" width="2.8" height="1.1" fill="#109010"/>
<rect x="247" y="0" width="1" height="21" fill="#a0a0a0"/>
<rect x="249" y="0" width="23" height="21" fill="url(#hatch)"/>
<path d="M255.5 6V19M253.0 16.5H267.0" stroke="#505050" stroke-width="1.2" fill="none"/><path d="M253.5 7.5L255.5 5L257.5 7.5zM265.0 14.5L267.8 16.5L265.0 18.5z" fill="#505050"/>
<path d="M261.5 3V15" stroke="#108010" stroke-width="1.2"/><rect x="259.3" y="5.5" width="4.6" height="7.2" fill="#30e030" stroke="#108010" stroke-width="0.9"/>
<path d="M283.5 6V19M281.0 16.5H295.0" stroke="#505050" stroke-width="1.2" fill="none"/><path d="M281.5 7.5L283.5 5L285.5 7.5zM293.0 14.5L295.8 16.5L293.0 18.5z" fill="#505050"/>
<path d="M282 14C285 12 286.5 8 288.5 8.2C290.5 8.5 292 11.5 294.5 12.2" stroke="#209020" stroke-width="1.2" fill="none"/>
<rect x="304" y="0" width="1" height="21" fill="#a0a0a0"/>
<path d="M323 13L328 18.2" stroke="#c89820" stroke-width="3" stroke-linecap="round"/>
<path d="M323.6 12.6L328.4 17.4" stroke="#f8e070" stroke-width="1" stroke-linecap="round"/>
<circle cx="319" cy="9" r="5.6" fill="url(#lens)" stroke="#3878c8" stroke-width="1.2"/>
<path d="M315.8 9H322.2" stroke="#4682b4" stroke-width="1.8"/>
<path d="M319 5.8V12.2" stroke="#4682b4" stroke-width="1.8"/>
<path d="M351.3 13L356.3 18.2" stroke="#c89820" stroke-width="3" stroke-linecap="round"/>
<path d="M351.90000000000003 12.6L356.7 17.4" stroke="#f8e070" stroke-width="1" stroke-linecap="round"/>
<circle cx="347.3" cy="9" r="5.6" fill="url(#lens)" stroke="#3878c8" stroke-width="1.2"/>
<path d="M344.1 9H350.5" stroke="#4682b4" stroke-width="1.8"/>
<rect x="369" y="3" width="8" height="8" fill="url(#grn)"/>
<rect x="370.2" y="6" width="5.6" height="3.6" fill="#fff"/>
<rect x="371" y="7.2" width="4" height="0.9" fill="#80c870"/>
<rect x="370" y="4" width="1" height="1" fill="#fff" opacity="0.8"/>
<rect x="377" y="3" width="8" height="8" fill="url(#blu)"/>
<rect x="378.2" y="6" width="5.6" height="3.6" fill="#fff"/>
<rect x="379" y="7.2" width="4" height="0.9" fill="#88a0e8"/>
<rect x="378" y="4" width="1" height="1" fill="#fff" opacity="0.8"/>
<rect x="369" y="11" width="8" height="8" fill="url(#blu)"/>
<rect x="370.2" y="14" width="5.6" height="3.6" fill="#fff"/>
<rect x="371" y="15.2" width="4" height="0.9" fill="#88a0e8"/>
<rect x="370" y="12" width="1" height="1" fill="#fff" opacity="0.8"/>
<rect x="377" y="11" width="8" height="8" fill="url(#grn)"/>
<rect x="378.2" y="14" width="5.6" height="3.6" fill="#fff"/>
<rect x="379" y="15.2" width="4" height="0.9" fill="#80c870"/>
<rect x="378" y="12" width="1" height="1" fill="#fff" opacity="0.8"/>
<rect x="394" y="1" width="1" height="20" fill="#808080"/>
<rect x="399" y="1" width="1" height="20" fill="#808080"/>
<rect x="400" y="0" width="24" height="21" fill="url(#hatch)"/>
<path d="M407.5 6V19M405.0 16.5H419.0" stroke="#505050" stroke-width="1.2" fill="none"/><path d="M405.5 7.5L407.5 5L409.5 7.5zM417.0 14.5L419.8 16.5L417.0 18.5z" fill="#505050"/>
<path d="M412.3 7L416.3 10.5L412.3 14z" fill="#30c030" stroke="#108010" stroke-width="0.8"/>
<rect x="427" y="1" width="1" height="20" fill="#a0a0a0"/>
<rect x="429" y="0" width="23" height="21" fill="url(#hatch)"/>
<path d="M435.5 6V19M433.0 16.5H447.0" stroke="#505050" stroke-width="1.2" fill="none"/><path d="M433.5 7.5L435.5 5L437.5 7.5zM445.0 14.5L447.8 16.5L445.0 18.5z" fill="#505050"/>
<path d="M441.7 5V15" stroke="#1878b8" stroke-width="1.2"/>
<path d="M442.8 10.5L445.5 8.5V12.5zM445 10.5H447" fill="#e05010" stroke="#e05010" stroke-width="0.8"/>
<rect x="456" y="0" width="1" height="21" fill="#a0a0a0"/>
<path d="M467 3.5H474L477.5 7V16.5H467z" fill="#fafafa" stroke="#707070" stroke-width="0.8"/>
<path d="M474 3.5V7H477.5" fill="none" stroke="#707070" stroke-width="0.7"/>
<path d="M470 7.5V13M470 8H472M468.5 12H470" stroke="#606060" stroke-width="0.8" fill="none"/>
<path d="M474.5 9.5H478V13H481.8V16.8H478V20.6H474.5V16.8H471V13H474.5z" fill="url(#grn2)" stroke="#108010" stroke-width="0.7"/>
<path d="M488.3 10h5l-2.5 3z" fill="#000"/>
<circle cx="512" cy="10.8" r="7.6" fill="url(#clk)" stroke="#0c3c98" stroke-width="0.6"/>
<circle cx="512" cy="10.8" r="5.3" fill="#fcfcfc" stroke="#90a8d0" stroke-width="0.6"/>
<path d="M512 7V11H515" stroke="#303030" stroke-width="1" fill="none"/>
<path d="M527.4 10h5l-2.5 3z" fill="#000"/>
<rect x="543.5" y="4.5" width="15" height="12.5" fill="#fff" stroke="#3878d0" stroke-width="1"/>
<rect x="543.5" y="4.5" width="15" height="2.2" fill="#4888e0"/>
<path d="M544 11H558" stroke="#88b0e8" stroke-width="0.8"/>
<path d="M545.5 9.8L548 9.2L550 8.3L552.5 9L555.5 8L557 8.3" stroke="#c02010" stroke-width="1.1" fill="none"/>
<path d="M545.5 14.8L548 14.5L550 13.2L552 14.6L554.5 13L557 14.2" stroke="#109020" stroke-width="1.1" fill="none"/>
<path d="M566.4 10h5l-2.5 3z" fill="#000"/>
<rect x="577" y="0" width="1" height="21" fill="#a0a0a0"/>
<rect x="580.5" y="1" width="3" height="1" fill="#a8a8a8"/><rect x="580.5" y="3" width="3" height="1" fill="#a8a8a8"/><rect x="580.5" y="5" width="3" height="1" fill="#a8a8a8"/><rect x="580.5" y="7" width="3" height="1" fill="#a8a8a8"/><rect x="580.5" y="9" width="3" height="1" fill="#a8a8a8"/><rect x="580.5" y="11" width="3" height="1" fill="#a8a8a8"/><rect x="580.5" y="13" width="3" height="1" fill="#a8a8a8"/><rect x="580.5" y="15" width="3" height="1" fill="#a8a8a8"/><rect x="580.5" y="17" width="3" height="1" fill="#a8a8a8"/><rect x="580.5" y="19" width="3" height="1" fill="#a8a8a8"/>
<rect x="587" y="1" width="1" height="20" fill="#808080"/>
<rect x="588" y="0" width="24" height="21" fill="url(#hatch)"/>
<path d="M595.2 4.2V15.2L598 12.8L600.6 18L602.6 17L600 12L603.6 11.6z" fill="#404040"/>
<path d="M620 11.5H626M629 11.5H635M627.5 4V10M627.5 13V19" stroke="#505050" stroke-width="1.1" fill="none"/>
<rect x="644" y="1" width="1" height="20" fill="#808080"/>
<path d="M661.5 5V18" stroke="#404040" stroke-width="1.2"/>
<path d="M684 11.5H696" stroke="#404040" stroke-width="1.2"/>
<path d="M711.8 18L724.2 5.6" stroke="#505050" stroke-width="1.1"/>
<path d="M738 14.5L751 4.5M740.5 18L753 8.5M742 9V16M745.5 7V14.5M749 4.5V11.5M738 12.8L741.5 15.8M747.5 3.5L752.5 7.8" stroke="#505050" stroke-width="1" fill="none"/>
<path d="M767 4.5H780" stroke="#606060" stroke-width="1" stroke-dasharray="1 1"/>
<path d="M767 7.6H780" stroke="#606060" stroke-width="1" stroke-dasharray="1 1"/>
<path d="M767 10.8H780" stroke="#606060" stroke-width="1" stroke-dasharray="1 1"/>
<path d="M767 13.2H780" stroke="#606060" stroke-width="1" stroke-dasharray="1 1"/>
<path d="M767 15.7H775" stroke="#606060" stroke-width="1" stroke-dasharray="1 1"/>
</g>
<rect x="824.5" y="5.5" width="11" height="12" fill="none" stroke="#505050" stroke-width="1" stroke-dasharray="1 1"/>
<path d="M826.5 7.5H833.5M830 7.5V15.8" stroke="#505050" stroke-width="1.6" fill="none"/>
<path d="M854 5L857.5 8.2L854 10.2L850.8 8.2zM861.5 12.6L865 15L861.5 18L858.2 15z" fill="#505050"/>
<path d="M852.5 12.5L854.5 14.5L861 8" stroke="#505050" stroke-width="1.3" fill="none"/>
<path d="M872 10h5l-2.5 3z" fill="#000"/>
<rect x="883" y="0" width="1" height="21" fill="#a0a0a0"/>
<rect x="886.7" y="1" width="3" height="1" fill="#a8a8a8"/><rect x="886.7" y="3" width="3" height="1" fill="#a8a8a8"/><rect x="886.7" y="5" width="3" height="1" fill="#a8a8a8"/><rect x="886.7" y="7" width="3" height="1" fill="#a8a8a8"/><rect x="886.7" y="9" width="3" height="1" fill="#a8a8a8"/><rect x="886.7" y="11" width="3" height="1" fill="#a8a8a8"/><rect x="886.7" y="13" width="3" height="1" fill="#a8a8a8"/><rect x="886.7" y="15" width="3" height="1" fill="#a8a8a8"/><rect x="886.7" y="17" width="3" height="1" fill="#a8a8a8"/><rect x="886.7" y="19" width="3" height="1" fill="#a8a8a8"/>
<rect x="1005" y="0" width="1" height="21" fill="#808080"/>
<rect x="1006" y="0" width="24" height="21" fill="url(#hatch)"/>
<rect x="1144" y="0" width="1" height="22" fill="#a0a0a0"/>
<path d="M1611.3 12L1607 16" stroke="#1c50c8" stroke-width="2.6" stroke-linecap="round"/>
<circle cx="1614.7" cy="8.4" r="4" fill="#f4f4fc" stroke="#2060d8" stroke-width="1.3"/>
<path d="M1650 12.2L1651.5 15L1647.5 12.4z" fill="#707070"/>
<ellipse cx="1647.1" cy="7.8" rx="6.5" ry="4.6" fill="url(#bub)" stroke="#787878" stroke-width="1"/>
<path d="M1635.5 15.5L1635 18.2L1638.5 16z" fill="#707070"/>
<ellipse cx="1638.3" cy="12.3" rx="5.3" ry="4.1" fill="url(#bub)" stroke="#787878" stroke-width="1"/>
<text x="748.3" y="19.6" font-size="6.4" fill="#303030" textLength="4.6" lengthAdjust="spacingAndGlyphs" font-weight="bold">E</text>
<text x="776.8" y="19.6" font-size="6.4" fill="#303030" textLength="4.2" lengthAdjust="spacingAndGlyphs" font-weight="bold">F</text>
<text x="797.6" y="15.8" font-size="12.4" fill="#404040" textLength="8.0" lengthAdjust="spacingAndGlyphs" stroke="#404040" stroke-width="0.13">A</text>
<text x="898.6" y="14.9" font-size="10" fill="#303030" textLength="12.6" lengthAdjust="spacingAndGlyphs" stroke="#303030" stroke-width="0.13">M1</text>
<text x="926.4" y="14.9" font-size="10" fill="#303030" textLength="12.6" lengthAdjust="spacingAndGlyphs" stroke="#303030" stroke-width="0.13">M5</text>
<text x="952.5" y="14.9" font-size="10" fill="#303030" textLength="17.7" lengthAdjust="spacingAndGlyphs" stroke="#303030" stroke-width="0.13">M15</text>
<text x="980.7" y="14.9" font-size="10" fill="#303030" textLength="17.3" lengthAdjust="spacingAndGlyphs" stroke="#303030" stroke-width="0.13">M30</text>
<text x="1011.6" y="14.9" font-size="10" fill="#303030" textLength="11.8" lengthAdjust="spacingAndGlyphs" stroke="#303030" stroke-width="0.13">H1</text>
<text x="1038.5" y="14.9" font-size="10" fill="#303030" textLength="12.4" lengthAdjust="spacingAndGlyphs" stroke="#303030" stroke-width="0.13">H4</text>
<text x="1067.7" y="14.9" font-size="10" fill="#303030" textLength="11.3" lengthAdjust="spacingAndGlyphs" stroke="#303030" stroke-width="0.13">D1</text>
<text x="1095" y="14.9" font-size="10" fill="#303030" textLength="14.0" lengthAdjust="spacingAndGlyphs" stroke="#303030" stroke-width="0.13">W1</text>
<text x="1121.7" y="14.9" font-size="10" fill="#303030" textLength="14.7" lengthAdjust="spacingAndGlyphs" stroke="#303030" stroke-width="0.13">MN</text>
</svg>
</body></html>
